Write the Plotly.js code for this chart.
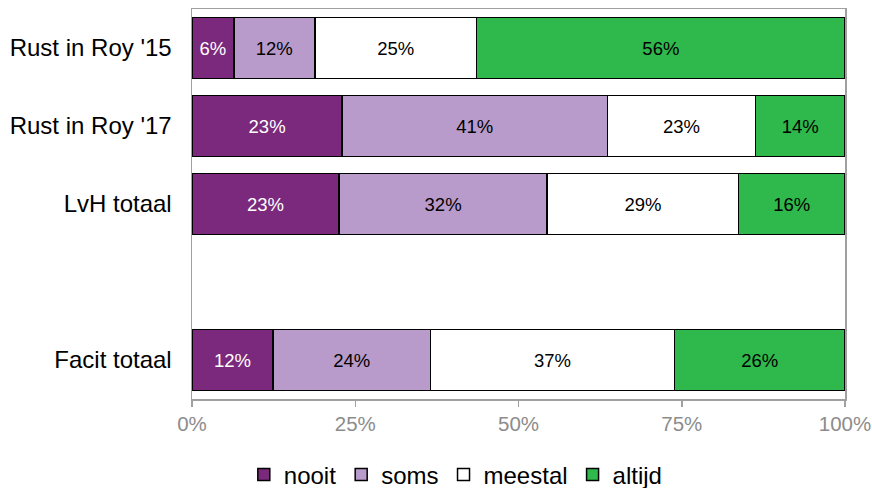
<!DOCTYPE html>
<html><head><meta charset="utf-8">
<script src="https://cdn.plot.ly/plotly-3.0.1.min.js"></script>
<style>html,body{margin:0;padding:0;background:#fff}#chart{width:872px;height:488px}</style>
</head><body><div id="chart"></div>
<script>
const categories = ["Rust in Roy '15", "Rust in Roy '17", "LvH totaal", " ", "Facit totaal"];
const seriesNames = ["nooit", "soms", "meestal", "altijd"];
const nooit   = [6.4, 23.0, 22.5, null, 12.4];
const soms    = [12.4, 40.6, 31.9, null, 24.1];
const meestal = [24.8, 22.7, 29.3, null, 37.4];
const altijd  = [56.4, 13.7, 16.3, null, 26.1];
const tickVals = [0, 25, 50, 75, 100];
const tickText = ["0%", "25%", "50%", "75%", "100%"];

const colors = ["#7B297C", "#B89BCA", "#FFFFFF", "#2FB84B"];
const textColors = ["#FFFFFF", "#000000", "#000000", "#000000"];
const values = [nooit, soms, meestal, altijd];

const traces = values.map((v, i) => ({
  type: 'bar', orientation: 'h', name: seriesNames[i],
  y: categories, x: v,
  marker: {color: colors[i], line: {color: '#000', width: 1.5}},
  text: v.map(d => d == null ? '' : Math.round(d) + '%'),
  texttemplate: '%{text}',
  textposition: 'inside', insidetextanchor: 'middle',
  textfont: {family: 'Liberation Sans, Arial', size: 18.5, color: textColors[i]},
  constraintext: 'none',
  hoverinfo: 'none'
}));

const layout = {
  width: 872, height: 488,
  margin: {l: 192, r: 27, t: 9, b: 89},
  barmode: 'stack', bargap: 0.22,
  paper_bgcolor: '#fff', plot_bgcolor: '#fff',
  font: {family: 'Liberation Sans, Arial', color: '#000'},
  showlegend: true,
  legend: {orientation: 'h', x: 0.404, xanchor: 'center', yref: 'container', y: 0.027, yanchor: 'middle',
    font: {size: 24, color: '#000'}, itemwidth: 30, tracegroupgap: 0, traceorder: 'normal'},
  xaxis: {range: [0, 100], tickvals: tickVals, ticktext: tickText, automargin: false,
    showgrid: false, zeroline: false, showline: true, mirror: true,
    linecolor: '#A0A0A0', linewidth: 1.5, ticks: 'outside', ticklen: 6, tickcolor: '#A0A0A0',
    tickwidth: 1.5, tickfont: {size: 20.5, color: '#8C8C8C'}, fixedrange: true},
  yaxis: {type: 'category', categoryorder: 'array', categoryarray: categories, automargin: false,
    autorange: 'reversed', showgrid: false, zeroline: false, showline: true, mirror: true,
    linecolor: '#A0A0A0', linewidth: 1.5, ticks: '', ticklabelstandoff: 14,
    tickfont: {size: 24, color: '#000'}, fixedrange: true}
};
Plotly.newPlot('chart', traces, layout, {staticPlot: true, displayModeBar: false});
</script></body></html>
